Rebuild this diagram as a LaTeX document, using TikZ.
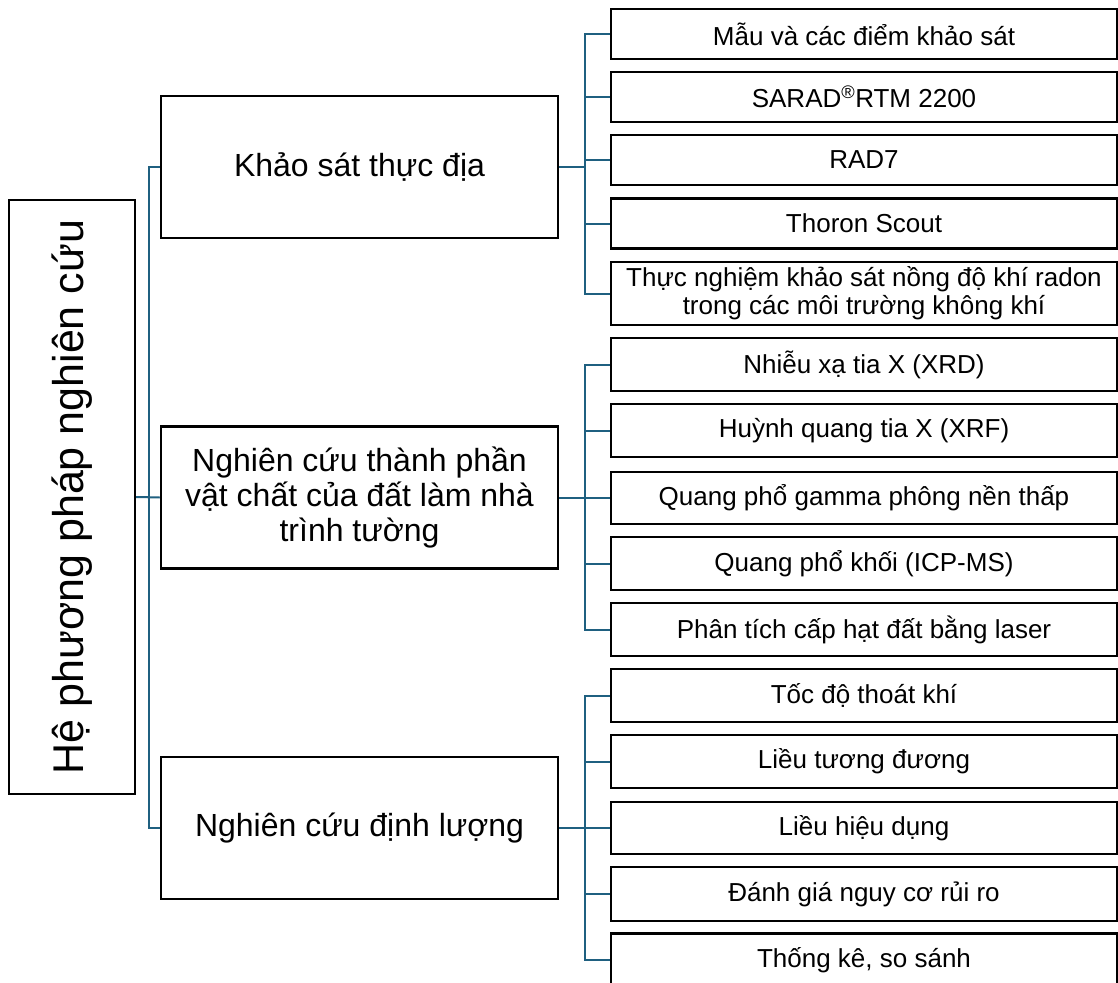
\documentclass[tikz,border=0pt]{standalone}
\usepackage{fontspec}
\usepackage{graphicx}
\setmainfont{Liberation Sans}
\usetikzlibrary{positioning}
\definecolor{linkblue}{RGB}{31,96,128}

\begin{document}
\begin{tikzpicture}[
    x=1pt, y=-1pt,
    rootbox/.style={rectangle, draw, line width=2.5pt, minimum width=126pt, minimum height=594pt, inner sep=0pt, font=\fontsize{43}{48}\selectfont},
    groupbox/.style={rectangle, draw, line width=2.5pt, minimum width=397pt, minimum height=142pt, inner sep=0pt, align=center, font=\fontsize{32}{35}\selectfont},
    leafbox/.style={rectangle, draw, line width=2.5pt, minimum width=506pt, minimum height=50pt, inner sep=0pt, align=center, font=\fontsize{26}{28}\selectfont},
    link/.style={draw=linkblue, line width=2pt}
]
\useasboundingbox (0,0) rectangle (1118,982);

% Root
\node[rootbox] (root) at (72,497) {\rotatebox{90}{Hệ phương pháp nghiên cứu}};

% Groups
\node[groupbox] (field) at (359.5,167) {Khảo sát thực địa};
\node[groupbox] (matter) at (359.5,497.5) {Nghiên cứu thành phần\\vật chất của đất làm nhà\\trình tường};
\node[groupbox] (quant) at (359.5,828) {Nghiên cứu định lượng};

% Field survey
\node[leafbox] (samples) at (864,34) {Mẫu và các điểm khảo sát};
\node[leafbox] (sarad) at (864,97) {SARAD\textsuperscript{®}RTM 2200};
\node[leafbox] (rad) at (864,160) {RAD7};
\node[leafbox] (scout) at (864,223.5) {Thoron Scout};
\node[leafbox, minimum height=63pt] (airexp) at (864,293.5) {Thực nghiệm khảo sát nồng độ khí radon\\trong các môi trường không khí};

% Material analysis
\node[leafbox, minimum height=53pt] (xrd) at (864,364.5) {Nhiễu xạ tia X (XRD)};
\node[leafbox, minimum height=53pt] (xrf) at (864,430.5) {Huỳnh quang tia X (XRF)};
\node[leafbox, minimum height=52pt] (gamma) at (864,498) {Quang phổ gamma phông nền thấp};
\node[leafbox, minimum height=53pt] (icpms) at (864,563.5) {Quang phổ khối (ICP-MS)};
\node[leafbox, minimum height=53pt] (laser) at (864,629.5) {Phân tích cấp hạt đất bằng laser};

% Quantitative study
\node[leafbox, minimum height=53pt] (exhale) at (864,695.5) {Tốc độ thoát khí};
\node[leafbox, minimum height=53pt] (equiv) at (864,761.5) {Liều tương đương};
\node[leafbox, minimum height=52pt] (effect) at (864,828) {Liều hiệu dụng};
\node[leafbox, minimum height=54pt] (risk) at (864,894) {Đánh giá nguy cơ rủi ro};
\node[leafbox, minimum height=53pt] (stats) at (864,960) {Thống kê, so sánh};

% Links root -> groups
\draw[link] (root.east) -- (matter.west);
\draw[link] (root.east) -- ++(13,0) |- (field.west);
\draw[link] (root.east) -- ++(13,0) |- (quant.west);

% Links groups -> leaves
\foreach \leaf in {samples, sarad, rad, scout, airexp}
  \draw[link] (field.east) -- ++(26,0) |- (\leaf.west);
\foreach \leaf in {xrd, xrf, gamma, icpms, laser}
  \draw[link] (matter.east) -- ++(26,0) |- (\leaf.west);
\foreach \leaf in {exhale, equiv, effect, risk, stats}
  \draw[link] (quant.east) -- ++(26,0) |- (\leaf.west);

\end{tikzpicture}
\end{document}
